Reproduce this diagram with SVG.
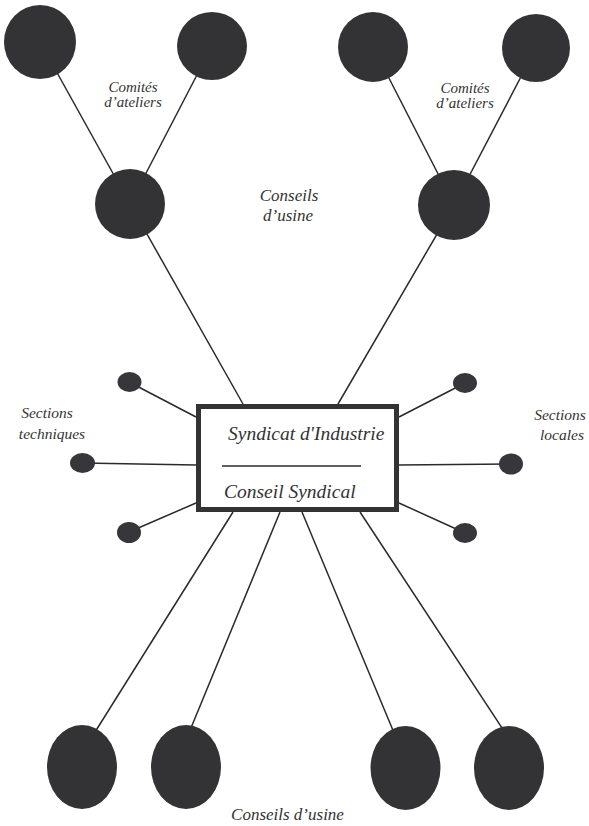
<svg xmlns="http://www.w3.org/2000/svg" width="589" height="826" viewBox="0 0 589 826">
<style>
.big{fill:#333336}
.sm{fill:#37373b}
.ln{stroke:#2a2a2a;stroke-width:1.5;fill:none}
.t{font-family:"Liberation Serif","Times New Roman",serif;font-style:italic;fill:#333;text-anchor:middle}
.lab{font-size:15px}
.lab3{font-size:15.5px}
.lab2{font-size:17px}
.box{font-size:19.5px;text-anchor:start}
</style>
<rect width="589" height="826" fill="#ffffff"/>
<g id="connectors">
<line class="ln" x1="40" y1="42" x2="130" y2="204"/>
<line class="ln" x1="212" y1="46" x2="130" y2="204"/>
<line class="ln" x1="373" y1="47" x2="454" y2="205"/>
<line class="ln" x1="536" y1="48" x2="454" y2="205"/>
<line class="ln" x1="130" y1="204" x2="243" y2="404"/>
<line class="ln" x1="454" y1="205" x2="338" y2="404"/>
<line class="ln" x1="129" y1="382" x2="196" y2="417"/>
<line class="ln" x1="82" y1="463" x2="196" y2="465"/>
<line class="ln" x1="129" y1="532" x2="196" y2="503"/>
<line class="ln" x1="465" y1="383" x2="399" y2="417"/>
<line class="ln" x1="511" y1="464" x2="399" y2="465"/>
<line class="ln" x1="465" y1="533" x2="399" y2="503"/>
<line class="ln" x1="233" y1="512" x2="90" y2="740"/>
<line class="ln" x1="280" y1="512" x2="186" y2="740"/>
<line class="ln" x1="302" y1="512" x2="397" y2="740"/>
<line class="ln" x1="360" y1="512" x2="510" y2="740"/>
</g>
<g id="comite1"><ellipse class="big" cx="40" cy="42" rx="36" ry="37"/></g>
<g id="comite2"><ellipse class="big" cx="212" cy="46" rx="35" ry="34"/></g>
<g id="comite3"><ellipse class="big" cx="373" cy="47" rx="35" ry="35"/></g>
<g id="comite4"><ellipse class="big" cx="536" cy="48" rx="34" ry="34"/></g>
<g id="conseil-usine-left"><ellipse class="big" cx="130" cy="204" rx="35" ry="35"/></g>
<g id="conseil-usine-right"><ellipse class="big" cx="454" cy="205" rx="36" ry="35"/></g>
<g id="section-tech-1"><ellipse class="sm" cx="129.5" cy="382" rx="12" ry="10"/></g>
<g id="section-tech-2"><ellipse class="sm" cx="82.5" cy="463" rx="12.5" ry="10"/></g>
<g id="section-tech-3"><ellipse class="sm" cx="129" cy="532.5" rx="12" ry="10.5"/></g>
<g id="section-loc-1"><ellipse class="sm" cx="465" cy="383" rx="12" ry="10"/></g>
<g id="section-loc-2"><ellipse class="sm" cx="511" cy="464" rx="12" ry="10.5"/></g>
<g id="section-loc-3"><ellipse class="sm" cx="465" cy="533" rx="12" ry="10"/></g>
<g id="usine-b1"><ellipse class="big" cx="82" cy="767" rx="35" ry="42"/></g>
<g id="usine-b2"><ellipse class="big" cx="186" cy="767" rx="35" ry="42"/></g>
<g id="usine-b3"><ellipse class="big" cx="405.5" cy="768" rx="35" ry="42"/></g>
<g id="usine-b4"><ellipse class="big" cx="509" cy="768" rx="35" ry="42"/></g>
<g id="syndicat">
<rect x="198.5" y="406.5" width="198" height="103" fill="#fff" stroke="#333" stroke-width="5"/>
<line x1="222" y1="466" x2="361" y2="466" stroke="#2a2a2a" stroke-width="1.5"/>
<text class="t box" x="228" y="440">Syndicat d'Industrie</text>
<text class="t box" x="224" y="498">Conseil Syndical</text>
</g>
<g id="labels">
<text class="t lab" x="133" y="92">Comités</text>
<text class="t lab" x="133" y="107">d’ateliers</text>
<text class="t lab" x="465" y="93">Comités</text>
<text class="t lab" x="465" y="108">d’ateliers</text>
<text class="t lab2" x="289" y="201">Conseils</text>
<text class="t lab2" x="288" y="221">d’usine</text>
<text class="t lab3" x="47" y="418">Sections</text>
<text class="t lab3" x="52" y="439">techniques</text>
<text class="t lab3" x="560" y="420">Sections</text>
<text class="t lab3" x="562" y="440">locales</text>
<text class="t lab2" x="287.5" y="820">Conseils d’usine</text>
</g>
</svg>
